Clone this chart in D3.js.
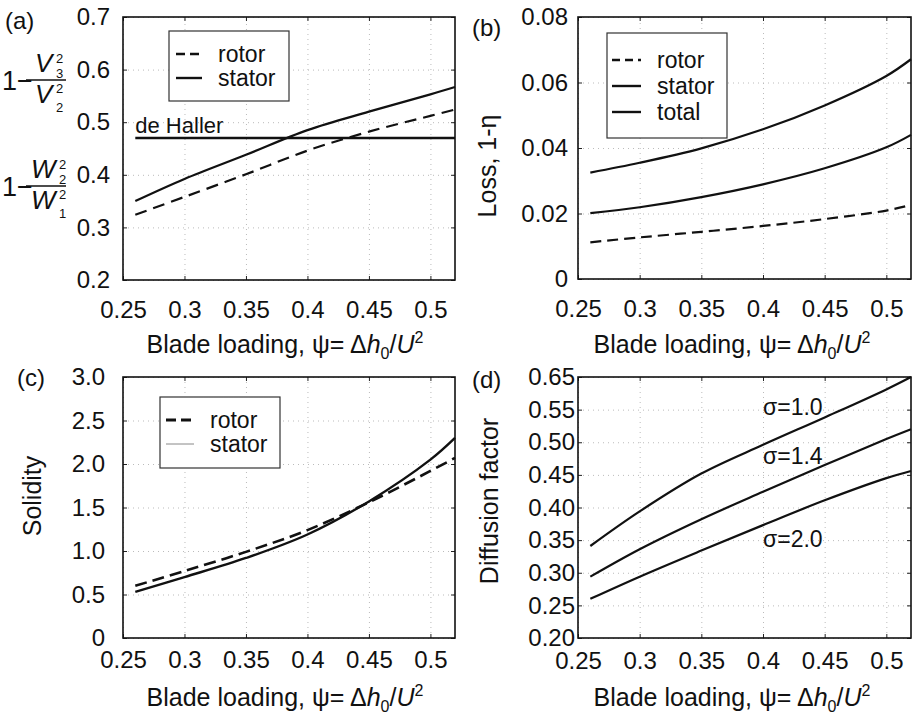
<!DOCTYPE html>
<html><head><meta charset="utf-8">
<script src="https://cdn.jsdelivr.net/npm/d3@7"></script>
<style>
body{margin:0;background:#fff;}
svg{font-family:"Liberation Sans",Arial,sans-serif;}
</style></head>
<body><svg id="chart" width="913" height="718"></svg>
<script>
// ---------- data ----------
const psi = [0.26, 0.30, 0.35, 0.40, 0.45, 0.50, 0.52];
// (a) diffusion ratios
const aStator = [0.350, 0.392, 0.438, 0.485, 0.520, 0.553, 0.567];
const aRotor  = [0.324, 0.358, 0.401, 0.446, 0.482, 0.512, 0.524];
const deHaller = 0.47;
// (b) losses
const bRotor  = [0.0112, 0.0127, 0.0144, 0.0162, 0.0183, 0.0209, 0.0226];
const bStator = [0.0201, 0.0219, 0.0250, 0.0289, 0.0338, 0.0402, 0.0440];
const bTotal  = [0.0325, 0.0355, 0.0399, 0.0457, 0.0530, 0.0620, 0.0671];
// (c) solidity
const cRotor  = [0.600, 0.770, 0.990, 1.240, 1.560, 1.920, 2.070];
const cStator = [0.530, 0.700, 0.920, 1.190, 1.570, 2.050, 2.300];
// (d) diffusion factor
const dSigma10 = [0.341, 0.394, 0.452, 0.496, 0.538, 0.581, 0.600];
const dSigma14 = [0.294, 0.336, 0.382, 0.424, 0.465, 0.505, 0.520];
const dSigma20 = [0.260, 0.294, 0.334, 0.373, 0.411, 0.445, 0.456];
const sigmaLabels = ["σ=1.0", "σ=1.4", "σ=2.0"];
// ticks
const xTicks = [0.25, 0.30, 0.35, 0.40, 0.45, 0.50];
const xTickLabels = ["0.25", "0.3", "0.35", "0.4", "0.45", "0.5"];
const aYTicks = [0.2, 0.3, 0.4, 0.5, 0.6, 0.7];
const aYTickLabels = ["0.2", "0.3", "0.4", "0.5", "0.6", "0.7"];
const bYTicks = [0, 0.02, 0.04, 0.06, 0.08];
const bYTickLabels = ["0", "0.02", "0.04", "0.06", "0.08"];
const cYTicks = [0, 0.5, 1.0, 1.5, 2.0, 2.5, 3.0];
const cYTickLabels = ["0", "0.5", "1.0", "1.5", "2.0", "2.5", "3.0"];
const dYTicks = [0.20, 0.25, 0.30, 0.35, 0.40, 0.45, 0.50, 0.55, 0.60];
const dYTickLabels = ["0.20", "0.25", "0.30", "0.35", "0.40", "0.45", "0.50", "0.55", "0.65"];

// ---------- layout ----------
const svg = d3.select("#chart");
const FS = 24;
const panels = {
  a: {l:123, r:455, t:17,  b:280, yd:[0.2,0.7], yt:aYTicks, yl:aYTickLabels, xpad:21, ypad:13},
  b: {l:578, r:911, t:17,  b:279, yd:[0,0.08],  yt:bYTicks, yl:bYTickLabels, xpad:21, ypad:10},
  c: {l:123, r:455, t:377, b:638, yd:[0,3],     yt:cYTicks, yl:cYTickLabels, xpad:13, ypad:18},
  d: {l:578, r:911, t:377, b:638, yd:[0.2,0.6], yt:dYTicks, yl:dYTickLabels, xpad:14, ypad:3}
};

function setupPanel(p) {
  p.x = d3.scaleLinear().domain([0.25, 0.52]).range([p.l, p.r]);
  p.y = d3.scaleLinear().domain(p.yd).range([p.b, p.t]);
  const w = p.r - p.l, h = p.b - p.t;
  const grid = svg.append("g");
  grid.append("g").attr("transform", `translate(0,${p.b})`)
    .call(d3.axisBottom(p.x).tickValues(xTicks).tickSize(-h).tickFormat(""))
    .call(g => { g.select(".domain").remove(); g.selectAll("line").attr("stroke","#bbb").attr("stroke-dasharray","1,4"); });
  grid.append("g").attr("transform", `translate(${p.l},0)`)
    .call(d3.axisLeft(p.y).tickValues(p.yt).tickSize(-w).tickFormat(""))
    .call(g => { g.select(".domain").remove(); g.selectAll("line").attr("stroke","#bbb").attr("stroke-dasharray","1,4"); });
  const xa = svg.append("g").attr("transform", `translate(0,${p.b})`)
    .call(d3.axisBottom(p.x).tickValues(xTicks).tickSizeInner(-4).tickSizeOuter(0).tickPadding(p.xpad)
      .tickFormat((d,i) => xTickLabels[i]));
  const ya = svg.append("g").attr("transform", `translate(${p.l},0)`)
    .call(d3.axisLeft(p.y).tickValues(p.yt).tickSizeInner(-4).tickSizeOuter(0).tickPadding(p.ypad)
      .tickFormat((d,i) => p.yl[i]));
  svg.append("g").attr("transform", `translate(0,${p.t})`)
    .call(d3.axisTop(p.x).tickValues(xTicks).tickSizeInner(-4).tickSizeOuter(0).tickFormat(""));
  svg.append("g").attr("transform", `translate(${p.r},0)`)
    .call(d3.axisRight(p.y).tickValues(p.yt).tickSizeInner(-4).tickSizeOuter(0).tickFormat(""));
  svg.selectAll(".domain").attr("stroke","none");
  [xa, ya].forEach(g => g.selectAll("text").attr("font-size", FS).attr("font-family","Liberation Sans, Arial, sans-serif").attr("fill","#111"));
  svg.selectAll(".tick line").filter(function(){return !this.getAttribute("stroke-dasharray");}).attr("stroke","#222");
  svg.append("rect").attr("x", p.l).attr("y", p.t).attr("width", w).attr("height", h)
    .attr("fill","none").attr("stroke","#111").attr("stroke-width",1.6);
}
Object.values(panels).forEach(setupPanel);

function drawLine(p, ys, opts={}) {
  const line = d3.line().x((d,i)=>p.x(psi[i])).y(d=>p.y(d)).curve(d3.curveCatmullRom.alpha(0.5));
  svg.append("path").datum(ys).attr("d", line).attr("fill","none")
    .attr("stroke", opts.color || "#111").attr("stroke-width", opts.w || 2.2)
    .attr("stroke-dasharray", opts.dash || null);
}

function legend(box, entries) {
  svg.append("rect").attr("x",box.x).attr("y",box.y).attr("width",box.w).attr("height",box.h)
    .attr("fill","#fff").attr("stroke","#333").attr("stroke-width",1.2);
  entries.forEach(e => {
    svg.append("line").attr("x1",box.sx1).attr("x2",box.sx2).attr("y1",e.y).attr("y2",e.y)
      .attr("stroke", e.color || "#111").attr("stroke-width", e.w || 2.4).attr("stroke-dasharray", e.dash || null);
    svg.append("text").attr("x",box.tx).attr("y",e.y).attr("dy","0.35em").attr("font-size",23).attr("fill","#111").text(e.label);
  });
}

function xTitle(cx, by) {
  const t = svg.append("text").attr("x",cx).attr("y",by).attr("text-anchor","middle").attr("font-size",25).attr("fill","#111");
  t.append("tspan").text("Blade loading, ψ= Δ");
  t.append("tspan").attr("font-style","italic").text("h");
  t.append("tspan").attr("font-size",16).attr("dy",6).text("0");
  t.append("tspan").attr("dy",-6).text("/");
  t.append("tspan").attr("font-style","italic").text("U");
  t.append("tspan").attr("font-size",16).attr("dy",-10).text("2");
}

function yTitle(cx, cy, txt) {
  svg.append("text").attr("transform",`translate(${cx},${cy}) rotate(-90)`).attr("text-anchor","middle")
    .attr("dy","0.35em").attr("font-size",25).attr("fill","#111").text(txt);
}

function panelLabel(x, y, txt) {
  svg.append("text").attr("x",x).attr("y",y).attr("dy","0.35em").attr("font-size",24).attr("fill","#111").text(txt);
}

// ---------- panel (a) ----------
const A = panels.a;
svg.append("line").attr("x1",A.x(0.26)).attr("x2",A.x(0.52)).attr("y1",A.y(deHaller)).attr("y2",A.y(deHaller))
  .attr("stroke","#111").attr("stroke-width",2.6);
svg.append("text").attr("x",A.x(0.26)).attr("y",A.y(deHaller)-5).attr("font-size",22).attr("fill","#111").text("de Haller");
drawLine(A, aRotor, {dash:"12,7"});
drawLine(A, aStator);
legend({x:169,y:31,w:120,h:70,sx1:176,sx2:202,tx:218},
  [{y:54,label:"rotor",dash:"9,5"},{y:78,label:"stator"}]);
function fracLabel(barY, N, ns, D, ds, lx, sx) {
  const g = svg.append("g").attr("transform",`translate(0,${barY})`).attr("fill","#111");
  g.append("text").attr("x",2).attr("y",9.5).attr("font-size",27).text("1−");
  g.append("line").attr("x1",26).attr("x2",66).attr("y1",0).attr("y2",0).attr("stroke","#111").attr("stroke-width",1.4);
  g.append("text").attr("x",lx).attr("y",-8).attr("font-size",26).attr("font-style","italic").text(N);
  g.append("text").attr("x",sx).attr("y",-17).attr("font-size",13).text("2");
  g.append("text").attr("x",sx).attr("y",-2).attr("font-size",13).text(ns);
  g.append("text").attr("x",lx).attr("y",23).attr("font-size",26).attr("font-style","italic").text(D);
  g.append("text").attr("x",sx).attr("y",13).attr("font-size",13).text("2");
  g.append("text").attr("x",sx).attr("y",32).attr("font-size",13).text(ds);
}
fracLabel(80, "V", "3", "V", "2", 35, 56);
fracLabel(186, "W", "2", "W", "1", 31, 59);
panelLabel(5, 21, "(a)");
xTitle(285, 353);

// ---------- panel (b) ----------
const B = panels.b;
drawLine(B, bRotor, {dash:"11,6"});
drawLine(B, bStator);
drawLine(B, bTotal);
legend({x:607,y:33,w:120,h:105,sx1:612,sx2:641,tx:657},
  [{y:60,label:"rotor",dash:"8,5"},{y:86,label:"stator"},{y:112,label:"total"}]);
yTitle(487, 166, "Loss, 1-η");
panelLabel(472, 28, "(b)");
xTitle(732, 353);

// ---------- panel (c) ----------
const C = panels.c;
drawLine(C, cRotor, {dash:"12,6", w:2.6});
drawLine(C, cStator, {w:2.4});
legend({x:160,y:397,w:120,h:71,sx1:166,sx2:194,tx:210},
  [{y:420,label:"rotor",dash:"10,5",w:3},{y:444,label:"stator",color:"#888",w:1}]);
yTitle(32, 496, "Solidity");
panelLabel(17, 378, "(c)");
xTitle(285, 706);

// ---------- panel (d) ----------
const D = panels.d;
drawLine(D, dSigma10);
drawLine(D, dSigma14);
drawLine(D, dSigma20);
const sigY = [415, 464, 547];
sigmaLabels.forEach((s,i) => {
  svg.append("text").attr("x", 763).attr("y", sigY[i]).attr("font-size",23).attr("fill","#111").text(s);
});
yTitle(489, 501, "Diffusion factor");
panelLabel(472, 380, "(d)");
xTitle(732, 706);
</script></body></html>
